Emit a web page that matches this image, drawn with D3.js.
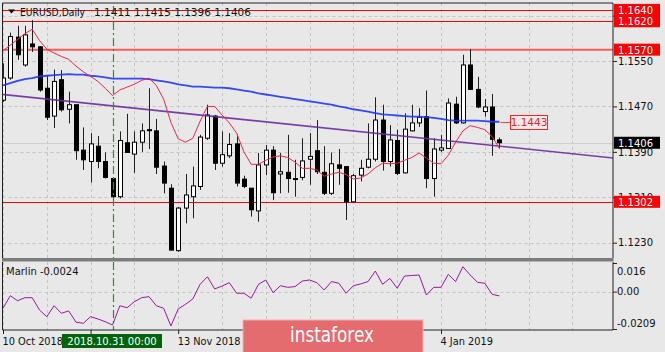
<!DOCTYPE html>
<html>
<head>
<meta charset="utf-8">
<script src="https://cdn.jsdelivr.net/npm/d3@7/dist/d3.min.js"></script>
<style>
  body { margin: 0; background: #e8e8e8; }
  svg { display: block; }
  text { font-family: "DejaVu Sans", sans-serif; }
</style>
</head>
<body>
<div id="chart"></div>
<script>
// EURUSD daily, 10 Oct 2018 .. 14 Jan 2019 (bar index 0..68)
const open  = [1.1481,1.1520,1.1592,1.1543,1.1580,1.1575,1.1502,1.1453,1.1517,1.1465,1.1473,1.1393,1.1373,1.1400,1.1373,1.1343,1.1311,1.1406,1.1386,1.1407,1.1429,1.1427,1.1365,1.1326,1.1216,1.1291,1.1311,1.1329,1.1414,1.1453,1.1370,1.1383,1.1404,1.1342,1.1326,1.1286,1.1367,1.1393,1.1351,1.1354,1.1343,1.1345,1.1377,1.1392,1.1354,1.1317,1.1367,1.1364,1.1302,1.1349,1.1363,1.1377,1.1446,1.1373,1.1410,1.1353,1.1427,1.1441,1.1452,1.1343,1.1393,1.1396,1.1474,1.1441,1.1543,1.1500,1.1461,1.1469,1.1411];
const high  = [1.1546,1.1600,1.1612,1.1612,1.1622,1.1576,1.1525,1.1535,1.1534,1.1496,1.1473,1.1433,1.1423,1.1418,1.1389,1.1344,1.1426,1.1457,1.1426,1.1440,1.1502,1.1448,1.1373,1.1333,1.1293,1.1351,1.1364,1.1420,1.1473,1.1455,1.1426,1.1423,1.1421,1.1348,1.1326,1.1388,1.1402,1.1400,1.1388,1.1420,1.1376,1.1414,1.1423,1.1446,1.1400,1.1389,1.1395,1.1364,1.1351,1.1376,1.1440,1.1486,1.1473,1.1437,1.1429,1.1458,1.1473,1.1467,1.1498,1.1414,1.1420,1.1484,1.1487,1.1561,1.1571,1.1522,1.1483,1.1492,1.1415];
const low   = [1.1478,1.1517,1.1552,1.1540,1.1566,1.1496,1.1446,1.1432,1.1461,1.1440,1.1376,1.1358,1.1336,1.1361,1.1343,1.1309,1.1308,1.1388,1.1353,1.1390,1.1395,1.1351,1.1317,1.1216,1.1214,1.1264,1.1273,1.1323,1.1411,1.1358,1.1364,1.1379,1.1329,1.1326,1.1276,1.1267,1.1349,1.1305,1.1317,1.1318,1.1311,1.1340,1.1332,1.1351,1.1314,1.1314,1.1332,1.1270,1.1301,1.1338,1.1361,1.1373,1.1357,1.1364,1.1349,1.1352,1.1426,1.1434,1.1326,1.1311,1.1390,1.1395,1.1439,1.1440,1.1499,1.1467,1.1452,1.1383,1.1396];
const close = [1.1520,1.1593,1.1561,1.1596,1.1575,1.1499,1.1451,1.1514,1.1464,1.1473,1.1392,1.1376,1.1404,1.1373,1.1345,1.1311,1.1410,1.1389,1.1407,1.1427,1.1428,1.1363,1.1335,1.1217,1.1291,1.1314,1.1330,1.1416,1.1455,1.1370,1.1385,1.1403,1.1335,1.1329,1.1288,1.1367,1.1393,1.1318,1.1355,1.1343,1.1342,1.1374,1.1382,1.1355,1.1317,1.1369,1.1361,1.1302,1.1348,1.1361,1.1377,1.1446,1.1373,1.1411,1.1352,1.1430,1.1441,1.1451,1.1343,1.1395,1.1397,1.1476,1.1441,1.1543,1.1500,1.1469,1.1469,1.1412,1.1406];

// fast (red) and slow (blue) moving averages as drawn on the chart
const maFast = [1.1568,1.1578,1.1588,1.1598,1.1606,1.1586,1.1571,1.1564,1.1558,1.1553,1.1541,1.1531,1.1523,1.1514,1.1502,1.1489,1.1499,1.1504,1.1509,1.1516,1.1520,1.1507,1.1483,1.1442,1.1413,1.1407,1.1414,1.1444,1.1470,1.1470,1.1455,1.1441,1.1423,1.1390,1.1368,1.1368,1.1375,1.1381,1.1383,1.1380,1.1372,1.1361,1.1361,1.1358,1.1347,1.1351,1.1354,1.1350,1.1342,1.1344,1.1351,1.1362,1.1370,1.1369,1.1370,1.1375,1.1380,1.1388,1.1379,1.1370,1.1369,1.1384,1.1407,1.1427,1.1436,1.1433,1.1429,1.1417,1.1396];
const maSlow = [1.1507,1.1511,1.1515,1.1518,1.1520,1.1523,1.1524,1.1525,1.1526,1.1527,1.1526,1.1526,1.1524,1.1523,1.1521,1.1519,1.1519,1.1519,1.1519,1.1519,1.1518,1.1516,1.1514,1.1512,1.1509,1.1507,1.1505,1.1505,1.1504,1.1503,1.1503,1.1502,1.1500,1.1498,1.1496,1.1493,1.1491,1.1489,1.1487,1.1485,1.1483,1.1481,1.1479,1.1477,1.1475,1.1473,1.1470,1.1468,1.1465,1.1463,1.1461,1.1458,1.1456,1.1455,1.1454,1.1453,1.1452,1.1452,1.1451,1.1450,1.1448,1.1446,1.1445,1.1445,1.1445,1.1445,1.1444,1.1443,1.1443];

// Marlin oscillator
const marlin = [-0.0093,-0.0023,-0.0051,-0.0034,-0.0034,-0.0103,-0.0140,-0.0079,-0.0121,-0.0108,-0.0171,-0.0177,-0.0140,-0.0153,-0.0168,-0.0187,-0.0079,-0.0090,-0.0056,-0.0034,-0.0028,-0.0079,-0.0093,-0.0192,-0.0097,-0.0071,-0.0041,0.0041,0.0083,0.0015,0.0031,0.0050,-0.0009,-0.0009,-0.0037,0.0041,0.0065,-0.0006,0.0033,0.0024,0.0028,0.0059,0.0065,0.0050,0.0009,0.0056,0.0047,-0.0009,0.0033,0.0043,0.0056,0.0115,0.0041,0.0074,0.0019,0.0087,0.0090,0.0093,-0.0019,0.0024,0.0024,0.0097,0.0056,0.0139,0.0093,0.0052,0.0047,-0.0015,-0.0024];

const trendPoints = [[0, 1.1491], [68, 1.1400]];
const levelsThin = [1.1640, 1.1620, 1.1302];
const levelThick = 1.1570;
const bidPrice = 1.1406;
const maLabel = 1.1443;
const gridPrices = [1.1630, 1.1550, 1.1470, 1.1390, 1.1310, 1.1230];
// 1.1630 sits under the red level tags, so only its tick and grid line show
const priceTicks = [1.1550, 1.1470, 1.1390, 1.1310, 1.1230];
const timeTicks = [0, 12, 24, 36, 48, 60];
// labels at 12, 36 and 48 sit under the date box and the banner, so they stay blank
const timeLabels = ["10 Oct 2018", "", "13 Nov 2018", "", "", "4 Jan 2019"];
const markBar = 15, markLabel = "2018.10.31 00:00";
const marlinTicks = [0.016, 0.00, -0.0209];

const W = 665, H = 352;
const left = 2.5, right = 613, mainTop = 3, mainBottom = 258, indTop = 262, indBottom = 330;

const svg = d3.select("#chart").append("svg").attr("width", W).attr("height", H);
svg.append("rect").attr("width", W).attr("height", H).attr("fill", "#e8e8e8");

const x = d3.scaleLinear().domain([0, 68]).range([3, 499.4]);
const y = d3.scaleLinear().domain([1.1230, 1.1550]).range([242.7, 61]);
const yi = d3.scaleLinear().domain([-0.0209, 0.016]).range([329, 263]);

const defs = svg.append("defs");
defs.append("clipPath").attr("id", "clipMain").append("rect")
  .attr("x", left).attr("y", mainTop).attr("width", right - left).attr("height", mainBottom - mainTop);
defs.append("clipPath").attr("id", "clipInd").append("rect")
  .attr("x", left).attr("y", indTop).attr("width", right - left).attr("height", indBottom - indTop);

const gridX = d3.range(0, 84, 6);

// ---------- main panel ----------
const main = svg.append("g").attr("clip-path", "url(#clipMain)");

main.selectAll(".vg").data(gridX).enter().append("line")
  .attr("x1", d => Math.round(x(d)) + 0.5).attr("x2", d => Math.round(x(d)) + 0.5)
  .attr("y1", mainTop).attr("y2", mainBottom)
  .attr("stroke", "#c4c4c4").attr("stroke-dasharray", "3,3");
main.selectAll(".hg").data(gridPrices).enter().append("line")
  .attr("x1", left).attr("x2", right)
  .attr("y1", d => Math.round(y(d)) + 0.5).attr("y2", d => Math.round(y(d)) + 0.5)
  .attr("stroke", "#c4c4c4").attr("stroke-dasharray", "3,3");

// bid line
main.append("line").attr("x1", left).attr("x2", right)
  .attr("y1", Math.round(y(bidPrice)) + 0.5).attr("y2", Math.round(y(bidPrice)) + 0.5)
  .attr("stroke", "#cfcfcf");

// horizontal levels
main.selectAll(".lvl").data(levelsThin).enter().append("line")
  .attr("x1", left).attr("x2", right)
  .attr("y1", d => Math.round(y(d)) + 0.5).attr("y2", d => Math.round(y(d)) + 0.5)
  .attr("stroke", "#ff0000");
main.append("line").attr("x1", left).attr("x2", right)
  .attr("y1", y(levelThick)).attr("y2", y(levelThick))
  .attr("stroke", "#ff5a5a").attr("stroke-width", 2);

// candles
const bars = d3.range(open.length);
main.selectAll(".wick").data(bars).enter().append("line")
  .attr("x1", i => Math.round(x(i)) + 0.5).attr("x2", i => Math.round(x(i)) + 0.5)
  .attr("y1", i => y(high[i])).attr("y2", i => y(low[i]))
  .attr("stroke", "#202020");
main.selectAll(".body").data(bars).enter().append("rect")
  .attr("x", i => Math.round(x(i)) - 1.5)
  .attr("y", i => y(Math.max(open[i], close[i])))
  .attr("width", 4)
  .attr("height", i => Math.max(1, Math.abs(y(open[i]) - y(close[i]))))
  .attr("fill", i => close[i] >= open[i] ? "#ffffff" : "#000000")
  .attr("stroke", "#000").attr("stroke-width", 1);

// trend line
const tl = d3.scaleLinear().domain([trendPoints[0][0], trendPoints[1][0]]).range([trendPoints[0][1], trendPoints[1][1]]);
main.append("line")
  .attr("x1", x(-1)).attr("y1", y(tl(-1)))
  .attr("x2", x(85)).attr("y2", y(tl(85)))
  .attr("stroke", "#6a2c9e").attr("stroke-width", 1.6).attr("stroke-opacity", 0.9);

// moving averages
const lineMain = arr => d3.line().x((d, i) => x(i)).y(d => y(d))(arr);
main.append("path").attr("d", lineMain(maSlow))
  .attr("fill", "none").attr("stroke", "#1e36ff").attr("stroke-width", 1.8).attr("stroke-opacity", 0.9);
main.append("path").attr("d", lineMain(maFast))
  .attr("fill", "none").attr("stroke", "#e8284c").attr("stroke-width", 1);

// green vertical marker
svg.append("line")
  .attr("x1", Math.round(x(markBar)) + 0.5).attr("x2", Math.round(x(markBar)) + 0.5)
  .attr("y1", mainTop + 3).attr("y2", indBottom)
  .attr("stroke", "#18a018").attr("stroke-width", 1.2).attr("stroke-dasharray", "8,3,2,3");

// MA value label
const yl = Math.round(y(maLabel)) + 0.5;
svg.append("line").attr("x1", x(68) + 1).attr("x2", 510).attr("y1", yl).attr("y2", yl)
  .attr("stroke", "#ff4040");
svg.append("rect").attr("x", 510.5).attr("y", yl - 7).attr("width", 37).attr("height", 14)
  .attr("fill", "#ececec").attr("stroke", "#ff2020");
svg.append("text").attr("x", 529).attr("y", yl + 3.8).attr("text-anchor", "middle")
  .attr("font-size", 10.5).attr("fill", "#ff1a1a").text(maLabel.toFixed(4));

// frame
svg.append("path")
  .attr("d", `M${left},${mainBottom}V${mainTop}H${right}V${mainBottom}`)
  .attr("fill", "none").attr("stroke", "#222");
svg.append("rect").attr("x", left - 0.5).attr("y", mainBottom).attr("width", right - left + 1).attr("height", 3.5)
  .attr("fill", "#7c7c7c");

// title
svg.append("path").attr("d", "M8,9.5 L15,9.5 L11.5,13.5 Z").attr("fill", "#000");
svg.append("text").attr("x", 20).attr("y", 16).attr("font-size", 10.5).attr("fill", "#111")
  .attr("textLength", 65).attr("lengthAdjust", "spacingAndGlyphs").text("EURUSD,Daily");
svg.append("text").attr("x", 94).attr("y", 16).attr("font-size", 10.5).attr("fill", "#111")
  .text([open[68], high[68], low[68], close[68]].map(v => v.toFixed(4)).join(" "));

// right price axis: tick marks on every grid price, labels on the visible ones
const gt = svg.append("g").attr("transform", `translate(${right},0)`)
  .call(d3.axisRight(y).tickValues(gridPrices).tickSize(4).tickFormat(""));
gt.select(".domain").remove();
gt.selectAll("line").attr("stroke", "#222");
const ga = svg.append("g").attr("transform", `translate(${right},0)`)
  .call(d3.axisRight(y).tickValues(priceTicks).tickSize(0).tickFormat(d3.format(".4f")));
ga.select(".domain").remove();
ga.selectAll("text").attr("font-family", "DejaVu Sans").attr("font-size", 10).attr("fill", "#111").attr("x", 5);

// price label boxes
const tags = [
  {v: 1.1640, bg: "#ff0000"}, {v: 1.1620, bg: "#ff0000"}, {v: 1.1570, bg: "#ff0000"},
  {v: bidPrice, bg: "#000000"}, {v: 1.1302, bg: "#ff0000"}
];
const tg = svg.append("g").selectAll("g").data(tags).enter().append("g");
tg.append("rect").attr("x", 614).attr("y", d => y(d.v) - 6).attr("width", 46).attr("height", 12)
  .attr("fill", d => d.bg);
tg.append("text").attr("x", 618).attr("y", d => y(d.v) + 4).attr("font-size", 10).attr("fill", "#fff")
  .text(d => d.v.toFixed(4));

// ---------- indicator panel ----------
const ind = svg.append("g").attr("clip-path", "url(#clipInd)");
ind.selectAll(".vg").data(gridX).enter().append("line")
  .attr("x1", d => Math.round(x(d)) + 0.5).attr("x2", d => Math.round(x(d)) + 0.5)
  .attr("y1", indTop).attr("y2", indBottom)
  .attr("stroke", "#c4c4c4").attr("stroke-dasharray", "3,3");
ind.append("line").attr("x1", left).attr("x2", right)
  .attr("y1", Math.round(yi(0)) + 0.5).attr("y2", Math.round(yi(0)) + 0.5)
  .attr("stroke", "#c4c4c4").attr("stroke-dasharray", "3,3");
ind.append("path").attr("d", d3.line().x((d, i) => x(i)).y(d => yi(d))(marlin))
  .attr("fill", "none").attr("stroke", "#9b189b").attr("stroke-width", 1);

svg.append("path")
  .attr("d", `M${left},${indTop}V${indBottom}H${right}V${indTop}`)
  .attr("fill", "none").attr("stroke", "#222");
svg.append("text").attr("x", 6).attr("y", 275).attr("font-size", 10).attr("fill", "#111")
  .text("Marlin " + marlin[68].toFixed(4));

const iAxis = svg.append("g").attr("transform", `translate(${right},0)`)
  .call(d3.axisRight(yi).tickValues(marlinTicks).tickSize(4).tickFormat(d => d === 0 ? "0.00" : String(d)));
iAxis.select(".domain").remove();
iAxis.selectAll("line").attr("stroke", "#222");
iAxis.selectAll("text").attr("font-family", "DejaVu Sans").attr("font-size", 10).attr("fill", "#111").attr("x", 4)
  .attr("dy", d => d === 0.016 ? "1.1em" : d < 0 ? "-0.3em" : "0.32em");

// ---------- time axis ----------
const xAxis = d3.axisBottom(x).tickValues(timeTicks).tickSize(4).tickFormat((d, i) => timeLabels[i]);
const gx = svg.append("g").attr("transform", `translate(0,${indBottom})`).call(xAxis);
gx.select(".domain").remove();
gx.selectAll("line").attr("stroke", "#222");
gx.selectAll("text").attr("font-family", "DejaVu Sans").attr("font-size", 9.8).attr("fill", "#111")
  .attr("text-anchor", "start").attr("dx", -1).attr("y", 8);

// marker date box
svg.append("rect").attr("x", 62).attr("y", 334).attr("width", 100).attr("height", 14).attr("fill", "#00640a");
svg.append("text").attr("x", 112).attr("y", 345).attr("text-anchor", "middle").attr("font-size", 10)
  .attr("fill", "#fff").text(markLabel);

// banner
svg.append("rect").attr("x", 243).attr("y", 320).attr("width", 180).attr("height", 34)
  .attr("fill", "#e46c6e").attr("stroke", "#f3b0b0").attr("stroke-width", 1);
svg.append("text").attr("x", 290).attr("y", 342).attr("font-size", 22).attr("fill", "#ffffff")
  .attr("textLength", 84).attr("lengthAdjust", "spacingAndGlyphs").text("instaforex");
</script>
</body>
</html>
